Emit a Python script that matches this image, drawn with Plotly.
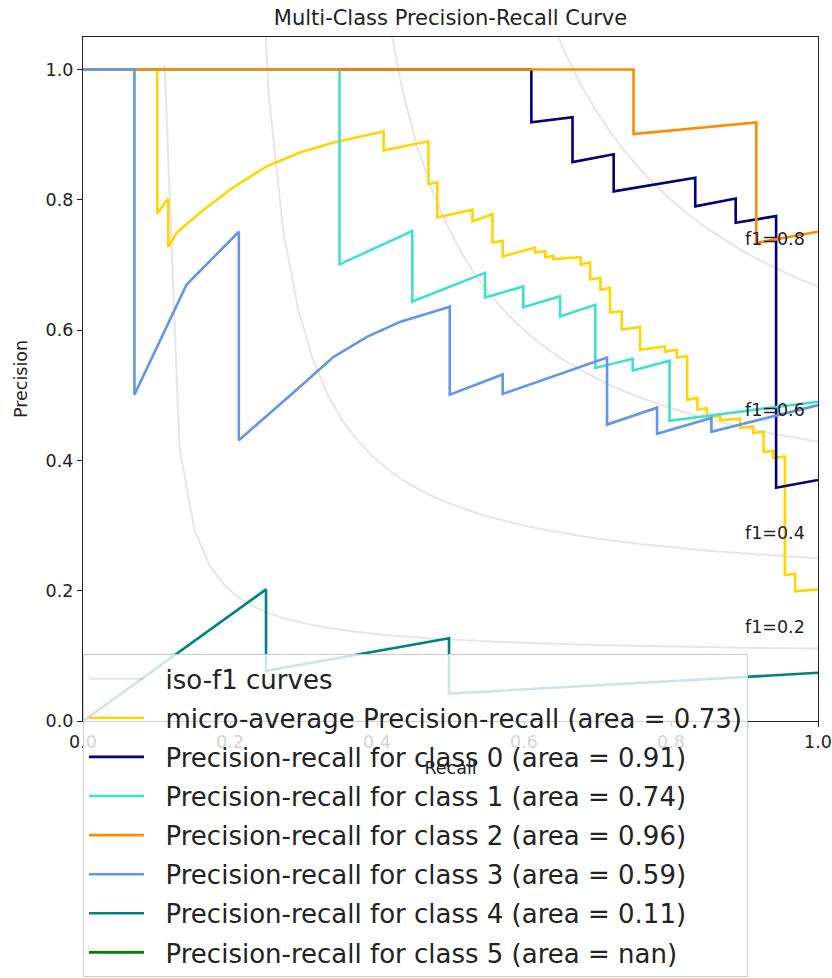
import numpy as np
import plotly.graph_objects as go

# ---------------- data ----------------
f_scores = [0.2, 0.4, 0.6, 0.8]

micro_recall = [0.0, 0.101, 0.101, 0.116, 0.116, 0.128, 0.160, 0.204, 0.251, 0.296, 0.341, 0.409, 0.409,
                0.470, 0.470, 0.482, 0.482, 0.530, 0.530, 0.557, 0.557, 0.571, 0.571, 0.615, 0.615, 0.629,
                0.629, 0.640, 0.640, 0.677, 0.677, 0.690, 0.690, 0.704, 0.704, 0.717, 0.717, 0.733, 0.733,
                0.758, 0.758, 0.792, 0.792, 0.808, 0.808, 0.822, 0.822, 0.836, 0.836, 0.849, 0.849, 0.867,
                0.867, 0.894, 0.894, 0.912, 0.912, 0.926, 0.926, 0.939, 0.939, 0.955, 0.955, 0.969, 0.969, 1.0]
micro_precision = [1.0, 1.0, 0.779, 0.802, 0.728, 0.750, 0.781, 0.819, 0.852, 0.873, 0.888, 0.905, 0.876,
                   0.890, 0.824, 0.827, 0.773, 0.785, 0.767, 0.778, 0.735, 0.737, 0.713, 0.727, 0.719, 0.721,
                   0.712, 0.714, 0.709, 0.712, 0.701, 0.704, 0.678, 0.680, 0.662, 0.665, 0.627, 0.629, 0.601,
                   0.605, 0.570, 0.575, 0.567, 0.570, 0.558, 0.560, 0.493, 0.496, 0.478, 0.480, 0.467, 0.468,
                   0.462, 0.464, 0.450, 0.452, 0.442, 0.444, 0.413, 0.415, 0.404, 0.406, 0.224, 0.226, 0.199, 0.202]

c0_recall = [0.0, 0.610, 0.610, 0.666, 0.666, 0.722, 0.722, 0.833, 0.833, 0.888, 0.888, 0.943, 0.943, 1.0]
c0_precision = [1.0, 1.0, 0.919, 0.927, 0.858, 0.870, 0.813, 0.834, 0.790, 0.802, 0.765, 0.775, 0.358, 0.370]

c1_recall = [0.0, 0.349, 0.349, 0.448, 0.448, 0.547, 0.547, 0.599, 0.599, 0.649, 0.649, 0.697, 0.697,
             0.748, 0.748, 0.798, 0.798, 1.0]
c1_precision = [1.0, 1.0, 0.701, 0.752, 0.644, 0.688, 0.650, 0.667, 0.635, 0.652, 0.621, 0.639, 0.542,
                0.556, 0.538, 0.553, 0.461, 0.490]

c2_recall = [0.0, 0.749, 0.749, 0.916, 0.916, 1.0]
c2_precision = [1.0, 1.0, 0.901, 0.919, 0.734, 0.751]

c3_recall = [0.0, 0.070, 0.070, 0.141, 0.212, 0.212, 0.286, 0.341, 0.387, 0.432, 0.499, 0.499, 0.571,
             0.571, 0.713, 0.713, 0.781, 0.781, 0.855, 0.855, 1.0]
c3_precision = [1.0, 1.0, 0.501, 0.670, 0.751, 0.431, 0.504, 0.559, 0.590, 0.613, 0.636, 0.501, 0.532,
                0.502, 0.558, 0.455, 0.481, 0.441, 0.465, 0.444, 0.485]

c4_recall = [0.0, 0.249, 0.249, 0.498, 0.498, 1.0]
c4_precision = [0.0, 0.202, 0.077, 0.127, 0.042, 0.074]

c5_recall = [None]
c5_precision = [None]

series_names = [
    "micro-average Precision-recall (area = 0.73)",
    "Precision-recall for class 0 (area = 0.91)",
    "Precision-recall for class 1 (area = 0.74)",
    "Precision-recall for class 2 (area = 0.96)",
    "Precision-recall for class 3 (area = 0.59)",
    "Precision-recall for class 4 (area = 0.11)",
    "Precision-recall for class 5 (area = nan)",
]
series_colors = ["#FFD700", "#000080", "#40E0D0", "#FF8C00", "#6495ED", "#008080", "#008000"]
series_x = [micro_recall, c0_recall, c1_recall, c2_recall, c3_recall, c4_recall, c5_recall]
series_y = [micro_precision, c0_precision, c1_precision, c2_precision, c3_precision, c4_precision, c5_precision]

FONT = "DejaVu Sans"
TXT = "#222222"
PAD = "\u00a0\u00a0"

fig = go.Figure()

# iso-f1 reference curves
annotations = []
for i, f in enumerate(f_scores):
    x = np.linspace(0.01, 1, 50)
    y = f * x / (2 * x - f)
    m = y >= 0
    fig.add_trace(go.Scatter(
        x=x[m], y=y[m], mode="lines",
        line=dict(color="rgba(128,128,128,0.2)", width=2),
        name=PAD + "iso-f1 curves", legendgroup="iso", showlegend=(i == 0),
        hoverinfo="skip"))
    annotations.append(dict(
        x=0.9, y=y[45] + 0.02, xref="x", yref="y", text="f1={0:0.1f}".format(f),
        showarrow=False, xanchor="left", yanchor="bottom", yshift=-4, xshift=-2,
        font=dict(family=FONT, size=17.5, color=TXT)))

for k, (nm, col, xs, ys) in enumerate(zip(series_names, series_colors, series_x, series_y)):
    fig.add_trace(go.Scatter(
        x=xs, y=ys, mode="lines", name=PAD + nm, legendgroup="g%d" % k,
        line=dict(color=col, width=2.6)))

axis_common = dict(
    showline=True, linecolor=TXT, linewidth=1.2, mirror=True,
    ticks="outside", ticklen=5, tickwidth=1.2, tickcolor=TXT,
    showgrid=False, zeroline=False, automargin=False,
    tickfont=dict(family=FONT, size=17.5, color=TXT),
    tickvals=[0, 0.2, 0.4, 0.6, 0.8, 1.0], tickformat=".1f",
)

fig.update_layout(
    width=832, height=978, autosize=False,
    margin=dict(l=83, r=14, t=37, b=257, autoexpand=False),
    plot_bgcolor="white", paper_bgcolor="white",
    title=dict(text="Multi-Class Precision-Recall Curve", x=0.5, xref="paper", xanchor="center",
               y=1 - 18 / 978, yref="container", yanchor="middle",
               font=dict(family=FONT, size=21, color=TXT)),
    xaxis=dict(range=[0, 1], title=dict(text="Recall", font=dict(family=FONT, size=17.5, color=TXT), standoff=10),
               **axis_common),
    yaxis=dict(range=[0, 1.05], title=dict(text="Precision", font=dict(family=FONT, size=17.5, color=TXT), standoff=13),
               **axis_common),
    legend=dict(x=0, y=0.0975, xanchor="left", yanchor="top",
                bgcolor="rgba(255,255,255,0.8)", bordercolor="#cccccc", borderwidth=1,
                font=dict(family=FONT, size=26, color=TXT),
                traceorder="grouped", tracegroupgap=2.3, itemwidth=55),
    annotations=annotations,
    showlegend=True,
)

fig.write_html("out.html")
